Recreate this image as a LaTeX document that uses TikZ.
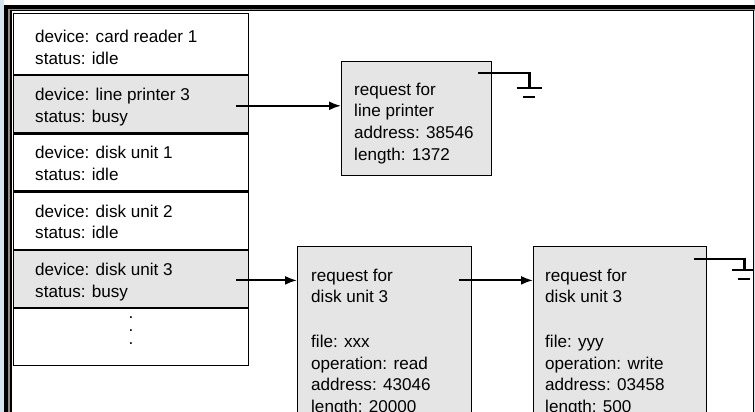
\documentclass[tikz,border=0pt]{standalone}
\usepackage{fontspec}
\setmainfont{Liberation Sans}
\usetikzlibrary{arrows.meta, positioning, calc}

\definecolor{boxgray}{RGB}{229,229,229}
\definecolor{edgeblue}{RGB}{214,228,240}

\tikzset{
  devrow/.style={draw, line width=1.2pt, minimum width=235pt, minimum height=57pt, anchor=north west, inner sep=0pt},
  txt/.style={anchor=north west, inner sep=0pt, align=left, font=\fontsize{17.1}{21.7}\selectfont},
  reqbox/.style={draw, line width=1.2pt, fill=boxgray, anchor=north west, inner sep=0pt},
  arr/.style={line width=2pt, -{Latex[length=12pt, width=9pt]}},
  gndline/.style={line width=2.6pt},
  gnd/.pic={
    \draw[gndline] (-12.5,0) -- (12.5,0);
    \draw[gndline] (-6,9) -- (6,9);
  }
}

\begin{document}
\begin{tikzpicture}[x=1pt, y=-1pt]
    \useasboundingbox (0,0) rectangle (755,412);
    \clip (0,0) rectangle (755,412);
    % device status table
    \node[devrow, minimum height=61pt] (dev1) at (13,13) {};
    \foreach \i/\c in {2/boxgray, 3/white, 4/white, 5/boxgray, 6/white} {
      \pgfmathtruncatemacro\j{\i-1}
      \node[devrow, fill=\c] (dev\i) at (dev\j.south west) {};
    }
    \foreach \i/\txt in {1/{device: card reader 1\\status: idle},
                         2/{device: line printer 3\\status: busy},
                         3/{device: disk unit 1\\status: idle},
                         4/{device: disk unit 2\\status: idle},
                         5/{device: disk unit 3\\status: busy}} {
      \node[txt] (lab\i) at ($(dev\i.south west)+(22,-45.2)$) {\txt};
    }
    \node[inner sep=0pt, align=center, font=\fontsize{17.1}{13}\selectfont, yshift=7pt] (more) at (dev6) {.\\.\\.};
    % 请求队列
    \node[reqbox, minimum width=150pt, minimum height=114pt] (req1) at (341,61) {};
    \node[reqbox, minimum width=174pt, minimum height=200pt] (req2) at (297,246) {};
    \node[reqbox, minimum width=173pt, minimum height=200pt] (req3) at (533,246) {};
    \node[txt] (rt1) at ($(req1.north west)+(13,21.6)$) {request for\\line printer\\address: 38546\\length: 1372};
    \node[txt] (rt2) at ($(req2.north west)+(14,22.6)$) {request for\\disk unit 3\\[23pt]file: xxx\\operation: read\\address: 43046\\length: 20000};
    \node[txt] (rt3) at ($(req3.north west)+(12,22.6)$) {request for\\disk unit 3\\[23pt]file: yyy\\operation: write\\address: 03458\\length: 500};
    % links
    \draw[arr] ($(dev2.east)+(-13,1.5)$) -- ($(dev2.east -| req1.west)+(0,1.5)$);
    \draw[arr] ($(dev5.east)+(-13,1.5)$) -- ($(dev5.east -| req2.west)+(0,1.5)$);
    \draw[arr] ($(req2.east |- dev5.east)+(-13,1.5)$) -- ($(dev5.east -| req3.west)+(0,1.5)$);
    % end of list
    \coordinate (g1) at ($(req1.north east)+(37,27)$);
    \draw[gndline] ($(req1.north east)+(-14,12)$) -| (g1);
    \pic at (g1) {gnd};
    \coordinate (g3) at ($(req3.north east)+(37,24)$);
    \draw[gndline] ($(req3.north east)+(-13,13)$) -| (g3);
    \pic at (g3) {gnd};
    % window frame
    \fill[edgeblue] (0,0) rectangle (3.5,412);
    \fill[edgeblue] (754.1,0) rectangle (755,412);
    \draw[line width=6pt, black!45] (7.5,412) -- (7.5,8) -- (755,8);
    \draw[line width=4pt] (6,412) -- (6,7) -- (755,7);
    \draw[line width=1.2pt] (10.9,412) |- (753.5,10.6) -- (753.5,412);
\end{tikzpicture}
\end{document}
